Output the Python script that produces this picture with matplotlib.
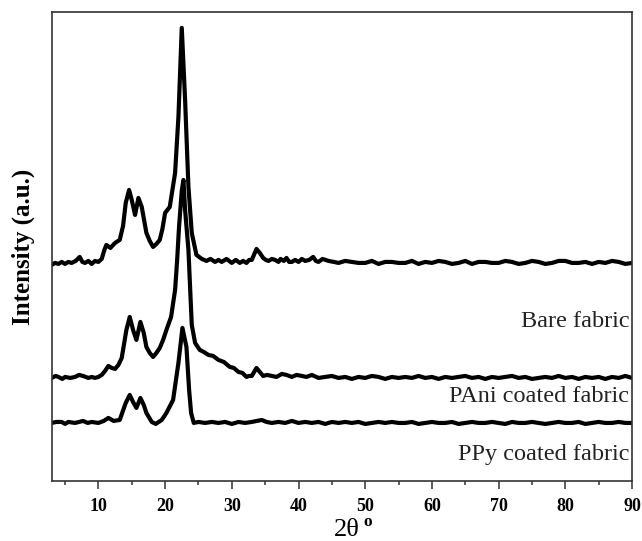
import matplotlib
matplotlib.use("Agg")
import matplotlib.pyplot as plt
import numpy as np

plt.rcParams['font.family'] = ['Liberation Serif', 'DejaVu Serif']

# XRD patterns (2-theta in degrees, intensity in arbitrary units, stacked offsets included)
bare_2theta = [3.0, 3.5, 4.0, 4.5, 5.0, 5.5, 6.0, 6.6, 7.2, 7.6, 8.0, 8.5, 9.0, 9.5, 10.0,
               10.5, 10.9, 11.2, 11.8, 12.5, 13.2, 13.7, 14.1, 14.6, 15.0, 15.5, 16.0,
               16.5, 17.2, 17.7, 18.2, 18.7, 19.2, 19.6, 20.0, 20.7, 21.5, 22.0,
               22.5, 23.0, 23.5, 24.0, 24.7, 25.1, 25.5, 26.2, 26.8, 27.5, 28.0, 28.5,
               29.2, 30.0, 30.6, 31.2, 31.7, 32.2, 32.6, 33.0, 33.7, 34.2, 34.7, 35.1,
               35.5, 36.0, 36.5, 37.0, 37.3, 37.8, 38.2, 38.6, 39.0, 39.5, 40.0, 40.5,
               41.0, 41.6, 42.2, 42.6, 43.0, 43.6, 44.5, 45.3, 46.0, 47.0, 48.0, 49.0,
               50.0, 51.0, 52.0, 53.0, 54.0, 55.0, 56.0, 57.0, 58.0, 59.0, 60.0, 61.0,
               62.0, 63.0, 64.0, 65.0, 66.0, 67.0, 68.0, 69.0, 70.0, 71.0, 72.0, 73.0,
               74.0, 75.0, 76.0, 77.0, 78.0, 79.0, 80.0, 81.0, 82.0, 83.0, 84.0, 85.0,
               86.0, 87.0, 88.0, 89.0, 90.0]
bare_intensity = [216, 218, 217, 219, 217, 219, 218, 220, 224, 219, 218, 220, 217, 220, 219,
                  222, 231, 236, 233, 238, 241, 255, 278, 291, 281, 266, 283,
                  274, 248, 240, 234, 237, 241, 252, 268, 274, 308, 364,
                  453, 381, 294, 248, 226, 224, 222, 220, 222, 219, 221, 219,
                  222, 218, 221, 218, 220, 218, 221, 221, 232, 228, 223, 221,
                  220, 222, 221, 219, 222, 220, 223, 219, 219, 221, 219, 222,
                  220, 221, 224, 220, 219, 222, 220, 219, 218, 220, 219, 218,
                  218, 220, 217, 219, 219, 218, 218, 220, 217, 219, 218, 220,
                  219, 217, 218, 220, 217, 219, 219, 218, 218, 220, 219, 217,
                  218, 220, 219, 217, 218, 220, 220, 218, 218, 219, 217, 219,
                  218, 220, 219, 217, 218]

pani_2theta = [3.0, 3.6, 4.0, 4.6, 5.0, 5.8, 6.5, 7.1, 7.7, 8.5, 9.0, 9.5, 10.0, 10.5,
               11.0, 11.5, 12.0, 12.5, 13.0, 13.5, 14.2, 14.7,
               15.2, 15.7, 16.3, 16.8, 17.2, 17.7, 18.2, 18.7, 19.2, 19.7, 20.2, 20.9,
               21.5, 21.8, 22.1, 22.5, 22.75, 23.0, 23.5, 24.0, 24.5, 25.2, 25.8, 26.5,
               27.2, 28.0, 28.8, 29.7, 30.3, 31.0, 31.6, 32.2, 32.6, 33.0, 33.7, 34.2,
               34.7, 35.3, 36.0, 36.7, 37.5, 38.2, 39.0, 39.7, 40.5, 41.2, 42.0, 43.0,
               44.0, 45.0, 46.0, 47.0, 48.0, 49.0, 50.0, 51.0, 52.0, 53.0, 54.0, 55.0,
               56.0, 57.0, 58.0, 59.0, 60.0, 61.0, 62.0, 63.0, 64.0, 65.0, 66.0, 67.0,
               68.0, 69.0, 70.0, 71.0, 72.0, 73.0, 74.0, 75.0, 76.0, 77.0, 78.0, 79.0,
               80.0, 81.0, 82.0, 83.0, 84.0, 85.0, 86.0, 87.0, 88.0, 89.0, 90.0]
pani_intensity = [103, 105, 104, 102, 104, 103, 104, 106, 105, 103, 104, 103, 104, 106,
                  110, 115, 113, 112, 116, 123, 151, 164,
                  151, 141, 159, 148, 134, 128, 124, 128, 133, 141, 151, 164,
                  191, 220, 255, 290, 301, 271, 231, 156, 138, 131, 129, 126,
                  125, 121, 119, 114, 113, 109, 108, 104, 105, 105, 113, 109,
                  105, 106, 105, 104, 107, 106, 104, 106, 105, 104, 106, 103,
                  104, 105, 103, 104, 102, 104, 103, 105, 104, 102, 104, 103,
                  104, 103, 105, 103, 104, 102, 104, 103, 104, 105, 103, 104,
                  102, 104, 103, 104, 105, 103, 104, 102, 103, 104, 103, 105,
                  103, 104, 102, 104, 103, 104, 102, 104, 103, 105, 103]

ppy_2theta = [3.0, 3.7, 4.5, 5.0, 5.5, 6.5, 7.1, 7.7, 8.4, 9.0, 10.0, 10.8, 11.5, 12.3,
              13.2, 14.1, 14.7, 15.2, 15.7, 16.3, 16.8, 17.2, 18.0, 18.6, 19.5, 20.2,
              21.2, 22.0, 22.6, 23.2, 23.6, 23.9, 24.3, 25.0, 26.0, 27.0, 28.0, 29.0,
              30.0, 31.0, 32.0, 33.0, 34.5, 35.2, 36.0, 37.0, 38.0, 39.0, 40.0, 41.0,
              42.0, 43.0, 44.0, 45.0, 46.0, 47.0, 48.0, 49.0, 50.0, 51.0, 52.0, 53.0,
              54.0, 55.0, 56.0, 57.0, 58.0, 59.0, 60.0, 61.0, 62.0, 63.0, 64.0, 65.0,
              66.0, 67.0, 68.0, 69.0, 70.0, 71.0, 72.0, 73.0, 74.0, 75.0, 76.0, 77.0,
              78.0, 79.0, 80.0, 81.0, 82.0, 83.0, 84.0, 85.0, 86.0, 87.0, 88.0, 89.0, 90.0]
ppy_intensity = [58, 59, 59, 57, 59, 58, 59, 60, 58, 59, 58, 60, 63, 60,
                 61, 78, 86, 79, 73, 83, 76, 68, 59, 57, 61, 68,
                 81, 118, 153, 134, 91, 68, 58, 59, 58, 59, 58, 59,
                 57, 59, 58, 59, 61, 59, 58, 59, 58, 60, 58, 59,
                 58, 59, 57, 59, 58, 59, 58, 59, 57, 58, 59, 58,
                 59, 58, 58, 59, 57, 58, 59, 58, 58, 59, 57, 58,
                 59, 58, 58, 59, 58, 57, 59, 58, 58, 59, 58, 57,
                 58, 59, 58, 58, 59, 57, 58, 59, 58, 58, 59, 58, 58]

sample_labels = ["Bare fabric", "PAni coated fabric", "PPy coated fabric"]
label_heights = [159, 84, 26]

x_ticks = [10, 20, 30, 40, 50, 60, 70, 80, 90]

fig = plt.figure(figsize=(6.42, 5.41), dpi=100)
ax = fig.add_axes([0.0805, 0.111, 0.904, 0.867])

for xs, ys in [(bare_2theta, bare_intensity), (pani_2theta, pani_intensity),
               (ppy_2theta, ppy_intensity)]:
    ax.plot(xs, ys, color='black', lw=3.0, solid_joinstyle='round')

for text, h in zip(sample_labels, label_heights):
    ax.text(89.6, h, text, ha='right', va='center', fontsize=17.5, color='#222222')

ax.set_xlim(3, 90)
ax.set_ylim(0, 469)
ax.set_xticks(x_ticks)
ax.set_xticks(np.arange(5, 90, 10), minor=True)
ax.set_yticks([])
ax.tick_params(axis='x', which='major', direction='out', length=6, width=1.1,
               labelsize=13, color='#333333', pad=6)
ax.tick_params(axis='x', which='minor', direction='out', length=3, width=1.1,
               color='#333333')
for lbl in ax.get_xticklabels():
    lbl.set_fontweight('bold')
for sp in ax.spines.values():
    sp.set_color('#333333')
    sp.set_linewidth(1.2)

ax.set_ylabel("Intensity (a.u.)", fontsize=18, fontweight='bold', labelpad=12)

# x-axis title: "2θ" with a bold degree-style superscript "o"
ax.set_xlabel("2θ", fontsize=19)
ax.xaxis.set_label_coords(0.508, -0.081)
fig.text(363 / 642, 1 - 522 / 541, "o", fontsize=12.5, fontweight='bold',
         ha='left', va='center')

fig.savefig("out.png", dpi=100)
